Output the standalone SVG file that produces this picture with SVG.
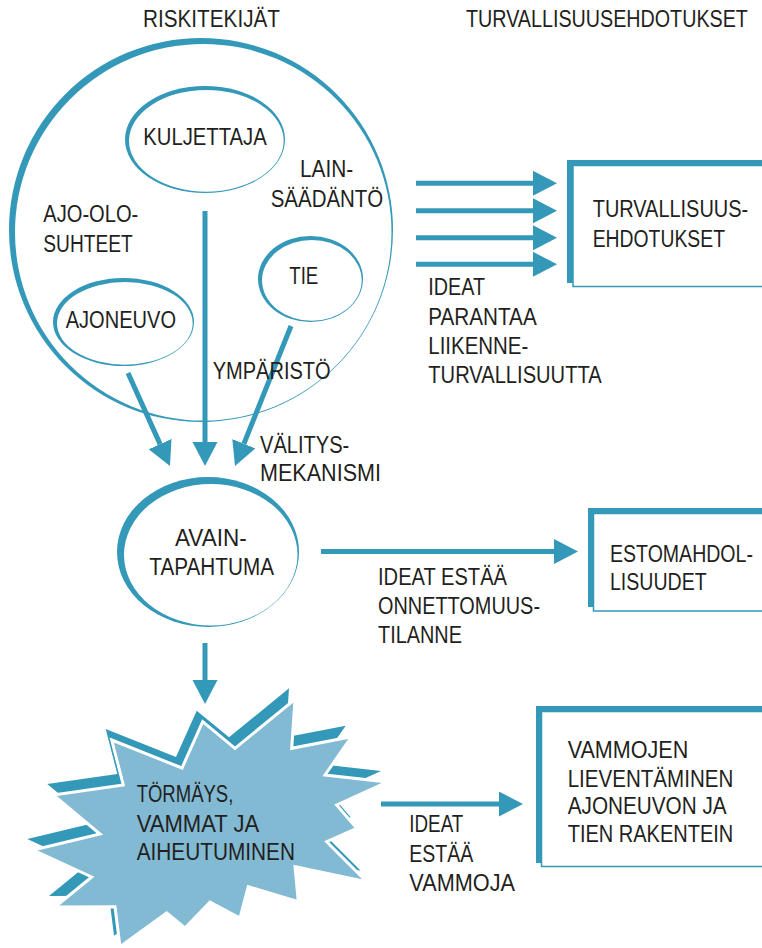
<svg xmlns="http://www.w3.org/2000/svg" width="762" height="948" viewBox="0 0 762 948">
<defs>
<style>
text{font-family:"Liberation Sans",Arial,sans-serif;font-size:23px;fill:#231f20}
.teal{fill:#3498b9}
.wht{fill:#ffffff}
.box{fill:#ffffff;stroke:#3498b9;stroke-width:1.5}
.con{stroke:#3498b9;stroke-width:5;fill:none;marker-end:url(#ah)}
</style>
<marker id="ah" markerUnits="userSpaceOnUse" markerWidth="26" markerHeight="26" refX="0" refY="12.5" orient="auto">
<path d="M0,0 L24,12.5 L0,25 z" fill="#3498b9"/>
</marker>
</defs>
<rect width="762" height="948" fill="#ffffff"/>

<g id="title-riski"><text x="143" y="27" textLength="137" lengthAdjust="spacingAndGlyphs">RISKITEKIJÄT</text></g>
<g id="title-turva"><text transform="translate(466,27) scale(0.858,1)">TURVALLISUUSEHDOTUKSET</text></g>

<g id="riskitekijat">
<ellipse class="teal" cx="201" cy="230" rx="192" ry="192"/>
<ellipse class="wht" cx="203.25" cy="232.25" rx="188.25" ry="188.25"/>
<text x="300" y="176.7" textLength="53.3" lengthAdjust="spacingAndGlyphs">LAIN-</text>
<text x="270.7" y="206.7" textLength="112.6" lengthAdjust="spacingAndGlyphs">SÄÄDÄNTÖ</text>
<text x="43.3" y="221.7" textLength="95" lengthAdjust="spacingAndGlyphs">AJO-OLO-</text>
<text x="43.3" y="251.7" textLength="89.4" lengthAdjust="spacingAndGlyphs">SUHTEET</text>
</g>

<g id="kuljettaja">
<ellipse class="teal" cx="205" cy="139.5" rx="80" ry="53.5"/>
<ellipse class="wht" cx="206.35" cy="140.85" rx="77.35" ry="50.85"/>
<text x="143.3" y="145" textLength="123.4" lengthAdjust="spacingAndGlyphs">KULJETTAJA</text>
</g>

<g id="tie">
<ellipse class="teal" cx="310.5" cy="279" rx="52.5" ry="43"/>
<ellipse class="wht" cx="311.85" cy="280.35" rx="49.85" ry="40.35"/>
<text x="289.3" y="284" textLength="29" lengthAdjust="spacingAndGlyphs">TIE</text>
</g>

<g id="ajoneuvo">
<ellipse class="teal" cx="123.5" cy="322" rx="70.5" ry="44"/>
<ellipse class="wht" cx="124.85" cy="323.35" rx="67.85" ry="41.35"/>
<text x="65.7" y="327.7" textLength="110.3" lengthAdjust="spacingAndGlyphs">AJONEUVO</text>
</g>

<g id="avaintapahtuma">
<ellipse class="teal" cx="208" cy="552" rx="91" ry="75"/>
<ellipse class="wht" cx="210.75" cy="554.75" rx="86.75" ry="70.75"/>
<text x="175" y="546" textLength="71.7" lengthAdjust="spacingAndGlyphs">AVAIN-</text>
<text x="149.3" y="575" textLength="124.7" lengthAdjust="spacingAndGlyphs">TAPAHTUMA</text>
</g>

<g id="turvallisuusehdotukset">
<rect class="teal" x="567" y="160" width="200" height="123"/>
<rect class="box" x="573" y="165.5" width="200" height="121"/>
<text transform="translate(592.7,216.7) scale(0.867,1)">TURVALLISUUS-</text>
<text x="592.7" y="246.7" textLength="132.3" lengthAdjust="spacingAndGlyphs">EHDOTUKSET</text>
</g>

<g id="estomahdollisuudet">
<rect class="teal" x="588" y="508" width="180" height="99"/>
<rect class="box" x="593.5" y="513.5" width="180" height="97.5"/>
<text transform="translate(610,561.7) scale(0.85,1)">ESTOMAHDOL-</text>
<text x="610" y="590" textLength="96.7" lengthAdjust="spacingAndGlyphs">LISUUDET</text>
</g>

<g id="vammojen">
<rect class="teal" x="536" y="706" width="230" height="157"/>
<rect class="box" x="541.5" y="711.5" width="230" height="155"/>
<text x="567.7" y="758.3" textLength="120.6" lengthAdjust="spacingAndGlyphs">VAMMOJEN</text>
<text x="567.7" y="786.7" textLength="165.6" lengthAdjust="spacingAndGlyphs">LIEVENTÄMINEN</text>
<text x="567.7" y="814" textLength="159" lengthAdjust="spacingAndGlyphs">AJONEUVON JA</text>
<text x="567.7" y="841.7" textLength="165.6" lengthAdjust="spacingAndGlyphs">TIEN RAKENTEIN</text>
</g>

<g id="tormays">
<polygon fill="#3498b9" transform="translate(-6,-11)" points="111.7,740 182,768 202.7,721.7 235,748.3 295,699.3 291.7,748.3 351.7,736.7 325,775 387,782 336.7,805 356.7,828.3 326.7,841.7 366.7,881.7 295,866.7 298.3,901.7 248.3,886.7 240,918 210,902 185,928 166.7,913 120,946.7 115,906.7 55,907 91.7,877 33.3,850 100,834 53.3,795 123.3,785"/>
<polygon fill="#82b9d3" stroke="#ffffff" stroke-width="3" stroke-linejoin="miter" points="111.7,740 182,768 202.7,721.7 235,748.3 295,699.3 291.7,748.3 351.7,736.7 325,775 387,782 336.7,805 356.7,828.3 326.7,841.7 366.7,881.7 295,866.7 298.3,901.7 248.3,886.7 240,918 210,902 185,928 166.7,913 120,946.7 115,906.7 55,907 91.7,877 33.3,850 100,834 53.3,795 123.3,785"/>
<text x="136.7" y="801.7" textLength="96.6" lengthAdjust="spacingAndGlyphs">TÖRMÄYS,</text>
<text x="136.7" y="831.7" textLength="122.6" lengthAdjust="spacingAndGlyphs">VAMMAT JA</text>
<text x="136.7" y="860" textLength="158.3" lengthAdjust="spacingAndGlyphs">AIHEUTUMINEN</text>
</g>

<g id="connectors">
<line class="con" x1="205" y1="211" x2="205" y2="442"/>
<line class="con" x1="128" y1="373" x2="160.1" y2="444.1"/>
<line class="con" x1="291" y1="326" x2="243.9" y2="443.7"/>
<line class="con" x1="416" y1="183.3" x2="533" y2="183.3"/>
<line class="con" x1="416" y1="210.7" x2="533" y2="210.7"/>
<line class="con" x1="416" y1="237.7" x2="533" y2="237.7"/>
<line class="con" x1="416" y1="264.3" x2="533" y2="264.3"/>
<line class="con" x1="321" y1="551.5" x2="554" y2="551.5"/>
<line class="con" x1="205" y1="643" x2="205" y2="680"/>
<line class="con" x1="381" y1="804" x2="499" y2="804"/>
</g>

<g id="labels">
<text x="212.7" y="379.3" textLength="118" lengthAdjust="spacingAndGlyphs">YMPÄRISTÖ</text>
<text x="260" y="453.3" textLength="89.3" lengthAdjust="spacingAndGlyphs">VÄLITYS-</text>
<text x="260" y="480.7" textLength="121" lengthAdjust="spacingAndGlyphs">MEKANISMI</text>
<text x="428.3" y="295" textLength="56.7" lengthAdjust="spacingAndGlyphs">IDEAT</text>
<text x="428.3" y="325" textLength="108.4" lengthAdjust="spacingAndGlyphs">PARANTAA</text>
<text x="428.3" y="354" textLength="100" lengthAdjust="spacingAndGlyphs">LIIKENNE-</text>
<text x="428.3" y="383.3" textLength="173.4" lengthAdjust="spacingAndGlyphs">TURVALLISUUTTA</text>
<text x="378" y="585" textLength="129" lengthAdjust="spacingAndGlyphs">IDEAT ESTÄÄ</text>
<text x="378" y="614" textLength="162" lengthAdjust="spacingAndGlyphs">ONNETTOMUUS-</text>
<text x="378" y="642.7" textLength="84" lengthAdjust="spacingAndGlyphs">TILANNE</text>
<text x="409.3" y="831.7" textLength="54" lengthAdjust="spacingAndGlyphs">IDEAT</text>
<text x="409.3" y="861.7" textLength="64" lengthAdjust="spacingAndGlyphs">ESTÄÄ</text>
<text x="409.3" y="890.7" textLength="105.7" lengthAdjust="spacingAndGlyphs">VAMMOJA</text>
</g>
</svg>
